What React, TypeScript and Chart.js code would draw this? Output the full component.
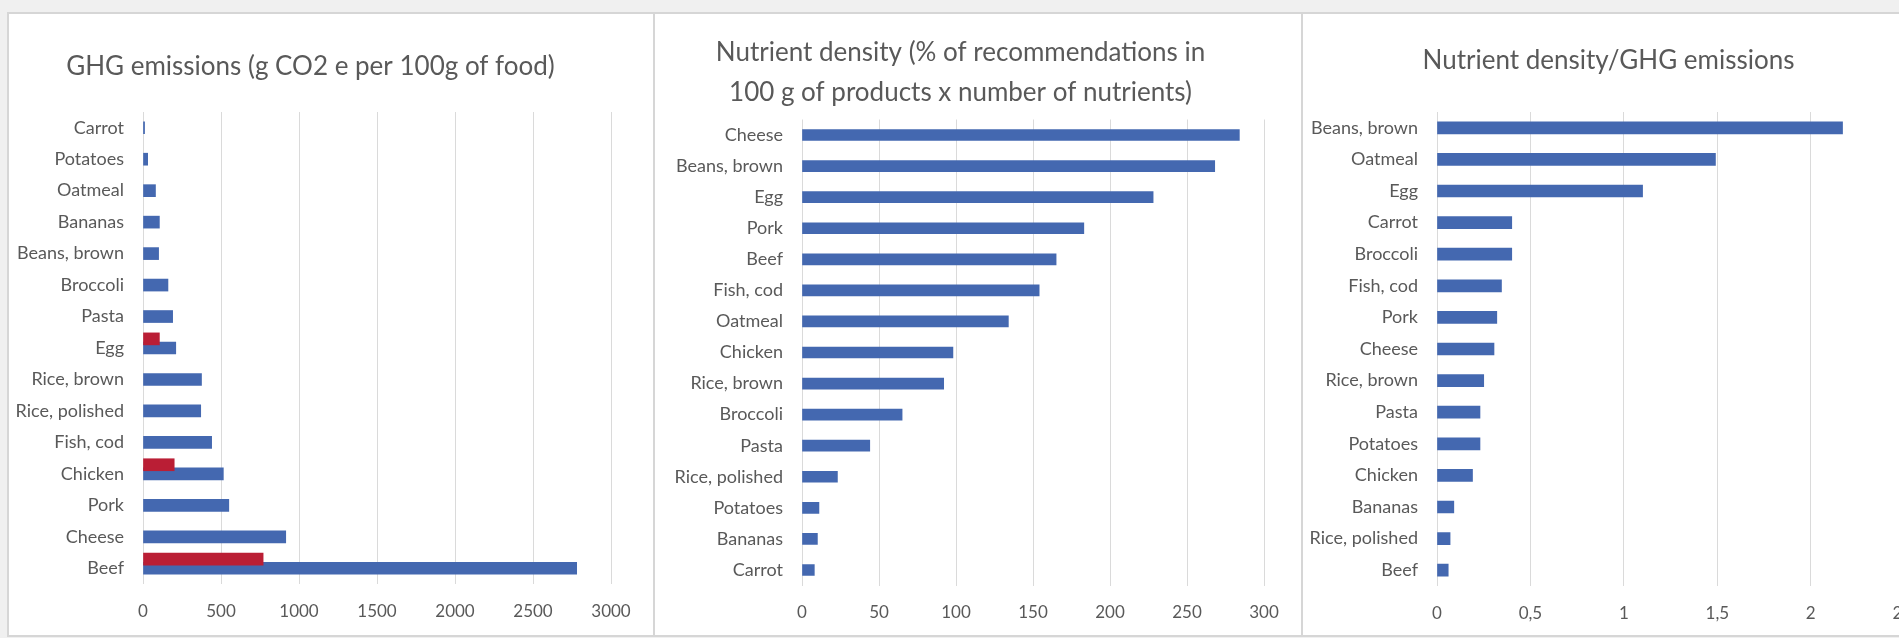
import React, { useEffect, useRef } from 'react';
import { Chart, registerables } from 'chart.js';

Chart.register(...registerables);

// ---------- Data ----------
const ghgCategories = [
  'Carrot', 'Potatoes', 'Oatmeal', 'Bananas', 'Beans, brown', 'Broccoli', 'Pasta', 'Egg',
  'Rice, brown', 'Rice, polished', 'Fish, cod', 'Chicken', 'Pork', 'Cheese', 'Beef',
];
const ghgValues = [10, 30, 80, 105, 100, 160, 190, 210, 375, 370, 440, 515, 550, 915, 2780];
const ghgRedCategories = ['Egg', 'Chicken', 'Beef'];
const ghgRedValues = [105, 200, 770];

const densityCategories = [
  'Cheese', 'Beans, brown', 'Egg', 'Pork', 'Beef', 'Fish, cod', 'Oatmeal', 'Chicken',
  'Rice, brown', 'Broccoli', 'Pasta', 'Rice, polished', 'Potatoes', 'Bananas', 'Carrot',
];
const densityValues = [284, 268, 228, 183, 165, 154, 134, 98, 92, 65, 44, 23, 11, 10, 8];

const ratioCategories = [
  'Beans, brown', 'Oatmeal', 'Egg', 'Carrot', 'Broccoli', 'Fish, cod', 'Pork', 'Cheese',
  'Rice, brown', 'Pasta', 'Potatoes', 'Chicken', 'Bananas', 'Rice, polished', 'Beef',
];
const ratioValues = [2.17, 1.49, 1.1, 0.4, 0.4, 0.345, 0.32, 0.305, 0.25, 0.23, 0.23, 0.19, 0.09, 0.07, 0.06];

const ghgTitle = 'GHG emissions (g CO2 e per 100g of food)';
const densityTitle = ['Nutrient density (% of recommendations in', '100 g of products x number of nutrients)'];
const ratioTitle = 'Nutrient density/GHG emissions';

// ---------- Styles ----------
const BLUE = '#4468B0';
const RED = '#BA1E35';
const GRID = '#DADADA';
const TEXT = '#595959';
const FONT = 'Lato, Carlito, Calibri, sans-serif';

type PanelCfg = {
  left: number; top: number; width: number; height: number;
  title: string | string[]; titleSize: number; titleLineHeight: number;
  titlePadTop: number; titlePadBottom: number;
  yWidth: number; xHeight: number; rightPad: number;
  xMax: number; xStep: number; fmt: (v: number) => string;
  labels: string[]; values: number[]; barThickness: number;
  red?: { cats: string[]; vals: number[]; shift: number };
};

function ChartPanel({ cfg }: { cfg: PanelCfg }) {
  const ref = useRef<HTMLCanvasElement | null>(null);
  useEffect(() => {
    if (!ref.current) return;
    const datasets: any[] = [];
    const scales: any = {
      x: {
        type: 'linear', min: 0, max: cfg.xMax,
        grid: { color: GRID, drawTicks: false, lineWidth: 1 },
        border: { display: false },
        ticks: {
          stepSize: cfg.xStep, padding: 17, color: TEXT,
          font: { family: FONT, size: 17 },
          callback: (v: any) => cfg.fmt(Number(v)),
        },
        afterFit: (s: any) => { s.height = cfg.xHeight; },
      },
      y: {
        type: 'category',
        grid: { display: false, drawTicks: false },
        border: { display: false },
        ticks: { padding: 19, color: TEXT, autoSkip: false, font: { family: FONT, size: 18 } },
        afterFit: (s: any) => { s.width = cfg.yWidth; },
      },
    };
    if (cfg.red) {
      const red = cfg.red;
      datasets.push({
        label: 'GHG emissions (second estimate)',
        data: red.cats.map((c, i) => ({ x: red.vals[i], y: cfg.labels.indexOf(c) })),
        yAxisID: 'yRed',
        backgroundColor: RED,
        barThickness: cfg.barThickness,
        grouped: false,
      });
      scales.yRed = {
        type: 'linear', display: false, reverse: true, bounds: 'data', grace: 0, offset: false,
        min: -0.5 + red.shift, max: cfg.labels.length - 0.5 + red.shift,
        grid: { offset: false },
        ticks: { stepSize: 1 },
      };
    }
    datasets.push({
      label: 'Value',
      data: cfg.values,
      yAxisID: 'y',
      backgroundColor: BLUE,
      barThickness: cfg.barThickness,
      grouped: false,
    });
    const chart = new Chart(ref.current, {
      type: 'bar',
      data: { labels: cfg.labels, datasets },
      options: {
        indexAxis: 'y',
        responsive: false,
        animation: false,
        layout: { padding: { left: 0, right: cfg.rightPad, top: 0, bottom: 0 } },
        plugins: {
          legend: { display: false },
          tooltip: { enabled: false },
          title: {
            display: true,
            text: cfg.title,
            color: TEXT,
            font: { family: FONT, size: cfg.titleSize, weight: 'normal', lineHeight: cfg.titleLineHeight },
            padding: { top: cfg.titlePadTop, bottom: cfg.titlePadBottom },
          },
        },
        scales,
      } as any,
    });
    return () => chart.destroy();
  }, [cfg]);
  return (
    <canvas
      ref={ref}
      width={cfg.width}
      height={cfg.height}
      style={{ position: 'absolute', left: cfg.left, top: cfg.top, width: cfg.width, height: cfg.height }}
    />
  );
}

const fmtInt = (v: number) => String(v);
const fmtComma = (v: number) => String(v).replace('.', ',');

const panels: PanelCfg[] = [
  {
    left: 10, top: 15, width: 642, height: 619,
    title: ghgTitle, titleSize: 26, titleLineHeight: 1.2, titlePadTop: 36.4, titlePadBottom: 29.4,
    yWidth: 133, xHeight: 50, rightPad: 41,
    xMax: 3000, xStep: 500, fmt: fmtInt,
    labels: ghgCategories, values: ghgValues, barThickness: 12,
    red: { cats: ghgRedCategories, vals: ghgRedValues, shift: 0.29 },
  },
  {
    left: 657, top: 15, width: 640, height: 619,
    title: densityTitle, titleSize: 26, titleLineHeight: 40 / 26, titlePadTop: 18, titlePadBottom: 6.5,
    yWidth: 145, xHeight: 48.5, rightPad: 33,
    xMax: 300, xStep: 50, fmt: fmtInt,
    labels: densityCategories, values: densityValues, barThickness: 11,
  },
  {
    left: 1305, top: 15, width: 628, height: 619,
    title: ratioTitle, titleSize: 26, titleLineHeight: 1.2, titlePadTop: 30.4, titlePadBottom: 35.4,
    yWidth: 132, xHeight: 48, rightPad: 21,
    xMax: 2.5, xStep: 0.5, fmt: fmtComma,
    labels: ratioCategories, values: ratioValues, barThickness: 12,
  },
];

const frames = [
  { left: 7, width: 648 },
  { left: 653, width: 650 },
  { left: 1301, width: 660 },
];

export default function App() {
  return (
    <div
      style={{
        position: 'fixed', left: 0, top: 0, width: 1899, height: 638,
        overflow: 'hidden', background: '#F0F0F0',
      }}
    >
      {frames.map((f, i) => (
        <div
          key={i}
          style={{
            position: 'absolute', left: f.left, top: 12, width: f.width, height: 625,
            boxSizing: 'border-box', border: '2px solid #D6D6D6', background: '#FFFFFF',
          }}
        />
      ))}
      {panels.map((p, i) => (
        <ChartPanel key={i} cfg={p} />
      ))}
    </div>
  );
}
